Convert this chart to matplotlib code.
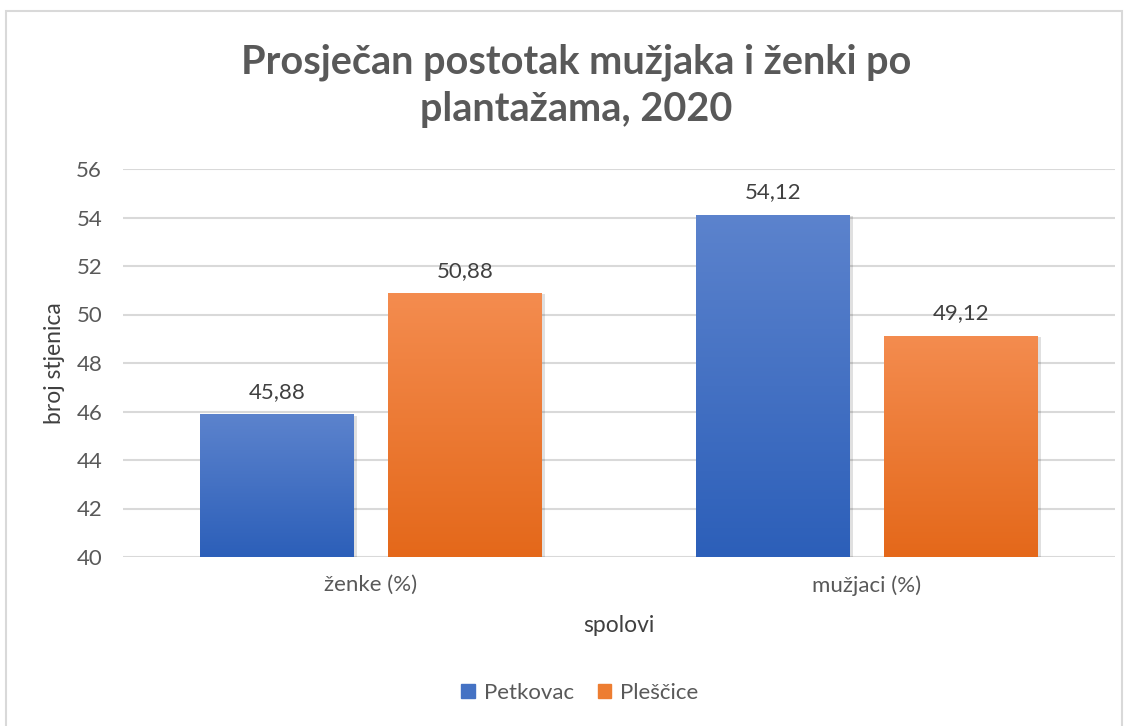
import matplotlib
matplotlib.use("Agg")
import matplotlib.pyplot as plt
import numpy as np
from matplotlib.patches import Rectangle
from matplotlib.colors import LinearSegmentedColormap

plt.rcParams['font.family'] = ['Lato', 'DejaVu Sans']

categories = ["ženke (%)", "mužjaci (%)"]
series_names = ["Petkovac", "Pleščice"]
petkovac = [45.88, 54.12]
plescice = [50.88, 49.12]
value_labels_p = ["45,88", "54,12"]
value_labels_o = ["50,88", "49,12"]

W, H = 1132, 726
fig = plt.figure(figsize=(W / 100, H / 100), dpi=100)
fig.patch.set_facecolor("white")

# chart border
fig.add_artist(Rectangle((6 / W, -0.01), (1122 - 6) / W, (H - 11) / H + 0.01,
                         transform=fig.transFigure, fill=False,
                         edgecolor="#d9d9d9", linewidth=1.5))

left, right, top, bottom = 123, 1115, 169, 557
ax = fig.add_axes([left / W, (H - bottom) / H, (right - left) / W, (bottom - top) / H])
ax.set_facecolor("none")

x = np.arange(len(categories))
bw = 0.31
off = 0.19
bars_p = ax.bar(x - off, [v - 40 for v in petkovac], bottom=40, width=bw, color="#4472c4", zorder=2)
bars_o = ax.bar(x + off, [v - 40 for v in plescice], bottom=40, width=bw, color="#ed7d31", zorder=2)

blue_cmap = LinearSegmentedColormap.from_list("b", ["#2c5fb9", "#5c83cd"])
orange_cmap = LinearSegmentedColormap.from_list("o", ["#e4681a", "#f48c4f"])
grad = np.linspace(0, 1, 256).reshape(-1, 1)
for bars, cmap in ((bars_p, blue_cmap), (bars_o, orange_cmap)):
    for p in bars:
        x0, y0, w, h = p.get_x(), p.get_y(), p.get_width(), p.get_height()
        # shadow
        ax.add_patch(Rectangle((x0 + 0.006, y0), w, h - 0.05, facecolor="#000000",
                               alpha=0.12, zorder=1.5, linewidth=0))
        im = ax.imshow(grad, extent=(x0, x0 + w, y0, y0 + h), origin="lower",
                       cmap=cmap, aspect="auto", zorder=2.5)
        im.set_clip_path(p)

for bars, labels in ((bars_p, value_labels_p), (bars_o, value_labels_o)):
    for p, lab in zip(bars, labels):
        ax.annotate(lab, (p.get_x() + p.get_width() / 2, p.get_y() + p.get_height()),
                    xytext=(0, 9), textcoords="offset points", ha="center", va="bottom",
                    fontsize=16, color="#404040")

ax.set_xlim(-0.5, 1.5)
ax.set_ylim(40, 56)
ax.set_yticks(np.arange(40, 57, 2))
ax.set_xticks(x)
ax.set_xticklabels(categories)
ax.tick_params(axis="both", length=0, labelsize=16, labelcolor="#595959")
ax.tick_params(axis="y", pad=15)
ax.tick_params(axis="x", pad=13)
ax.grid(axis="y", color="#d9d9d9", linewidth=1.5, zorder=0)
ax.set_axisbelow(True)
for s in ax.spines.values():
    s.set_visible(False)

ax.set_ylabel("broj stjenica", fontsize=16.5, color="#404040", labelpad=8)
ax.set_xlabel("spolovi", fontsize=16.5, color="#404040", labelpad=14)

fig.text(576 / W, 1 - 86 / H, "Prosječan postotak mužjaka i ženki po\nplantažama, 2020",
         ha="center", va="center", fontsize=28.5, fontweight="bold", color="#595959",
         linespacing=1.35)

handles = [Rectangle((0, 0), 1, 1, color="#4472c4"), Rectangle((0, 0), 1, 1, color="#ed7d31")]
fig.legend(handles, series_names, loc="center", bbox_to_anchor=(580 / W, 1 - 693 / H),
           ncol=2, frameon=False, fontsize=16, handlelength=0.6, handleheight=0.6,
           handletextpad=0.4, columnspacing=1.1, labelcolor="#595959")

fig.savefig("out.png", dpi=100)
